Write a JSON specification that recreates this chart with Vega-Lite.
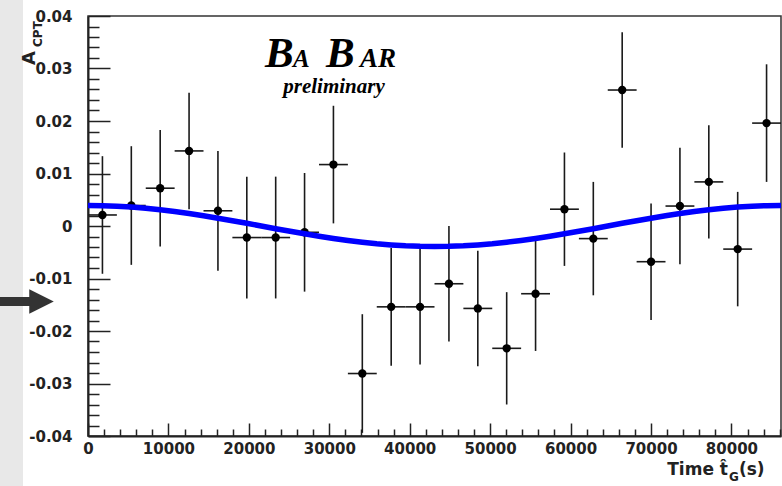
{
  "$schema": "https://vega.github.io/schema/vega-lite/v6.json",
  "width": 693,
  "height": 420,
  "autosize": {"type": "none"},
  "padding": {"left": 88, "top": 16, "right": 1, "bottom": 50},
  "background": "white",
  "config": {"view": {"stroke": "#333333", "strokeWidth": 1.5}},
  "datasets": {
    "points": [
      {"t": 1795, "t0": 0, "t1": 3590, "a": 0.0021, "lo": -0.0091, "hi": 0.0133},
      {"t": 5385, "t0": 3590, "t1": 7180, "a": 0.0039, "lo": -0.0074, "hi": 0.0152},
      {"t": 8975, "t0": 7180, "t1": 10771, "a": 0.0072, "lo": -0.0039, "hi": 0.0183},
      {"t": 12566, "t0": 10771, "t1": 14361, "a": 0.0143, "lo": 0.0032, "hi": 0.0254},
      {"t": 16156, "t0": 14361, "t1": 17951, "a": 0.0029, "lo": -0.0085, "hi": 0.0143},
      {"t": 19746, "t0": 17951, "t1": 21541, "a": -0.0022, "lo": -0.0138, "hi": 0.0094},
      {"t": 23336, "t0": 21541, "t1": 25131, "a": -0.0022, "lo": -0.0138, "hi": 0.0094},
      {"t": 26926, "t0": 25131, "t1": 28721, "a": -0.0012, "lo": -0.0125, "hi": 0.0101},
      {"t": 30516, "t0": 28721, "t1": 32312, "a": 0.0117, "lo": 0.0005, "hi": 0.0229},
      {"t": 34107, "t0": 32312, "t1": 35902, "a": -0.0281, "lo": -0.0394, "hi": -0.0168},
      {"t": 37697, "t0": 35902, "t1": 39492, "a": -0.0154, "lo": -0.0266, "hi": -0.0042},
      {"t": 41287, "t0": 39492, "t1": 43082, "a": -0.0154, "lo": -0.0264, "hi": -0.0044},
      {"t": 44877, "t0": 43082, "t1": 46672, "a": -0.0110, "lo": -0.0220, "hi": 0.0000},
      {"t": 48467, "t0": 46672, "t1": 50262, "a": -0.0157, "lo": -0.0267, "hi": -0.0047},
      {"t": 52057, "t0": 50262, "t1": 53853, "a": -0.0233, "lo": -0.0340, "hi": -0.0126},
      {"t": 55648, "t0": 53853, "t1": 57443, "a": -0.0129, "lo": -0.0238, "hi": -0.0020},
      {"t": 59238, "t0": 57443, "t1": 61033, "a": 0.0032, "lo": -0.0076, "hi": 0.0140},
      {"t": 62828, "t0": 61033, "t1": 64623, "a": -0.0024, "lo": -0.0132, "hi": 0.0084},
      {"t": 66418, "t0": 64623, "t1": 68213, "a": 0.0259, "lo": 0.0149, "hi": 0.0369},
      {"t": 70008, "t0": 68213, "t1": 71803, "a": -0.0068, "lo": -0.0179, "hi": 0.0043},
      {"t": 73598, "t0": 71803, "t1": 75394, "a": 0.0038, "lo": -0.0073, "hi": 0.0149},
      {"t": 77189, "t0": 75394, "t1": 78984, "a": 0.0084, "lo": -0.0024, "hi": 0.0192},
      {"t": 80779, "t0": 78984, "t1": 82574, "a": -0.0044, "lo": -0.0153, "hi": 0.0065},
      {"t": 84369, "t0": 82574, "t1": 86164, "a": 0.0196, "lo": 0.0084, "hi": 0.0308}
    ],
    "curve": [
      {"t": 0, "v": 0.00390}, {"t": 1795, "v": 0.00387}, {"t": 3590, "v": 0.00377},
      {"t": 5385, "v": 0.00360}, {"t": 7180, "v": 0.00338}, {"t": 8975, "v": 0.00309},
      {"t": 10771, "v": 0.00276}, {"t": 12566, "v": 0.00237}, {"t": 14361, "v": 0.00195},
      {"t": 16156, "v": 0.00149}, {"t": 17951, "v": 0.00101}, {"t": 19746, "v": 0.00051},
      {"t": 21541, "v": 0.00000}, {"t": 23336, "v": -0.00051}, {"t": 25131, "v": -0.00101},
      {"t": 26926, "v": -0.00149}, {"t": 28721, "v": -0.00195}, {"t": 30516, "v": -0.00237},
      {"t": 32312, "v": -0.00276}, {"t": 34107, "v": -0.00309}, {"t": 35902, "v": -0.00338},
      {"t": 37697, "v": -0.00360}, {"t": 39492, "v": -0.00377}, {"t": 41287, "v": -0.00387},
      {"t": 43082, "v": -0.00390}, {"t": 44877, "v": -0.00387}, {"t": 46672, "v": -0.00377},
      {"t": 48467, "v": -0.00360}, {"t": 50262, "v": -0.00338}, {"t": 52057, "v": -0.00309},
      {"t": 53853, "v": -0.00276}, {"t": 55648, "v": -0.00237}, {"t": 57443, "v": -0.00195},
      {"t": 59238, "v": -0.00149}, {"t": 61033, "v": -0.00101}, {"t": 62828, "v": -0.00051},
      {"t": 64623, "v": 0.00000}, {"t": 66418, "v": 0.00051}, {"t": 68213, "v": 0.00101},
      {"t": 70008, "v": 0.00149}, {"t": 71803, "v": 0.00195}, {"t": 73598, "v": 0.00237},
      {"t": 75394, "v": 0.00276}, {"t": 77189, "v": 0.00309}, {"t": 78984, "v": 0.00338},
      {"t": 80779, "v": 0.00360}, {"t": 82574, "v": 0.00377}, {"t": 84369, "v": 0.00387},
      {"t": 86164, "v": 0.00390}
    ],
    "one": [{}]
  },
  "layer": [
    {
      "data": {"name": "points"},
      "mark": {"type": "rule", "color": "#1a1a1a", "strokeWidth": 1.6},
      "encoding": {
        "x": {
          "field": "t", "type": "quantitative", "title": null,
          "scale": {"domain": [0, 86164], "nice": false, "zero": false},
          "axis": {
            "title": null, "grid": false, "tickCount": 200,
            "values": [0,2000,4000,6000,8000,10000,12000,14000,16000,18000,20000,22000,24000,26000,28000,30000,32000,34000,36000,38000,40000,42000,44000,46000,48000,50000,52000,54000,56000,58000,60000,62000,64000,66000,68000,70000,72000,74000,76000,78000,80000,82000,84000,86000],
            "labelExpr": "datum.value % 10000 === 0 ? format(datum.value, 'd') : ''",
            "tickSize": {"condition": {"test": "datum.value % 10000 === 0", "value": -13}, "value": -7},
            "tickColor": "#222222", "tickWidth": 1.5,
            "domain": true, "domainColor": "#222222", "domainWidth": 2,
            "labelFont": "DejaVu Sans", "labelFontWeight": "bold", "labelFontSize": 15, "labelColor": "#222222",
            "labelPadding": 18, "labelOverlap": false, "labelFlush": false, "labelBound": false
          }
        },
        "y": {
          "field": "lo", "type": "quantitative", "title": null,
          "scale": {"domain": [-0.04, 0.04], "nice": false, "zero": false},
          "axis": {
            "title": null, "grid": false, "tickCount": 200,
            "values": [-0.04,-0.038,-0.036,-0.034,-0.032,-0.03,-0.028,-0.026,-0.024,-0.022,-0.02,-0.018,-0.016,-0.014,-0.012,-0.01,-0.008,-0.006,-0.004,-0.002,0,0.002,0.004,0.006,0.008,0.01,0.012,0.014,0.016,0.018,0.02,0.022,0.024,0.026,0.028,0.03,0.032,0.034,0.036,0.038,0.04],
            "labelExpr": "abs(datum.value * 100 - round(datum.value * 100)) < 0.001 ? (abs(datum.value) < 0.000001 ? '0' : replace(format(datum.value, '.2f'), '−', '-')) : ''",
            "tickSize": {"condition": {"test": "abs(datum.value * 100 - round(datum.value * 100)) < 0.001", "value": -22}, "value": -11},
            "tickColor": "#222222", "tickWidth": 1.5,
            "domain": true, "domainColor": "#222222", "domainWidth": 2,
            "labelFont": "DejaVu Sans", "labelFontWeight": "bold", "labelFontSize": 15, "labelColor": "#222222",
            "labelPadding": 38, "labelOverlap": false, "labelFlush": false, "labelBound": false
          }
        },
        "y2": {"field": "hi"}
      }
    },
    {
      "data": {"name": "points"},
      "mark": {"type": "rule", "color": "#1a1a1a", "strokeWidth": 1.6},
      "encoding": {
        "x": {"field": "t0", "type": "quantitative", "title": null},
        "x2": {"field": "t1"},
        "y": {"field": "a", "type": "quantitative", "title": null}
      }
    },
    {
      "data": {"name": "points"},
      "mark": {"type": "point", "shape": "circle", "filled": true, "size": 70, "color": "black", "opacity": 1},
      "encoding": {
        "x": {"field": "t", "type": "quantitative", "title": null},
        "y": {"field": "a", "type": "quantitative", "title": null}
      }
    },
    {
      "data": {"name": "curve"},
      "mark": {"type": "line", "color": "#0000ff", "strokeWidth": 5.5},
      "encoding": {
        "x": {"field": "t", "type": "quantitative", "title": null},
        "y": {"field": "v", "type": "quantitative", "title": null}
      }
    },
    {
      "data": {"name": "one"},
      "mark": {"type": "rect", "color": "#e8e8e8"},
      "encoding": {
        "x": {"datum": -10941, "type": "quantitative", "title": null},
        "x2": {"datum": -8081},
        "y": {"datum": 0.05, "type": "quantitative", "title": null},
        "y2": {"datum": -0.05}
      }
    },
    {
      "data": {"name": "one"},
      "mark": {"type": "rule", "color": "#333333", "strokeWidth": 9},
      "encoding": {
        "x": {"datum": -10941, "type": "quantitative", "title": null},
        "x2": {"datum": -6962},
        "y": {"datum": -0.01438, "type": "quantitative", "title": null}
      }
    },
    {
      "data": {"name": "one"},
      "mark": {"type": "point", "shape": "M-1,-1L1,0L-1,1Z", "size": 600, "filled": true, "color": "#333333", "opacity": 1, "strokeWidth": 0},
      "encoding": {
        "x": {"datum": -5781, "type": "quantitative", "title": null},
        "y": {"datum": -0.01438, "type": "quantitative", "title": null}
      }
    },
    {
      "data": {"name": "one"},
      "mark": {"type": "text", "text": "B", "font": "Liberation Serif", "fontStyle": "italic", "fontWeight": "bold", "fontSize": 43, "align": "left", "baseline": "alphabetic", "color": "black"},
      "encoding": {
        "x": {"datum": 22006, "type": "quantitative", "title": null},
        "y": {"datum": 0.03034, "type": "quantitative", "title": null}
      }
    },
    {
      "data": {"name": "one"},
      "mark": {"type": "text", "text": "A", "font": "Liberation Serif", "fontStyle": "italic", "fontWeight": "bold", "fontSize": 25, "align": "left", "baseline": "alphabetic", "color": "black"},
      "encoding": {
        "x": {"datum": 25500, "type": "quantitative", "title": null},
        "y": {"datum": 0.03034, "type": "quantitative", "title": null}
      }
    },
    {
      "data": {"name": "one"},
      "mark": {"type": "text", "text": "B", "font": "Liberation Serif", "fontStyle": "italic", "fontWeight": "bold", "fontSize": 43, "align": "left", "baseline": "alphabetic", "color": "black"},
      "encoding": {
        "x": {"datum": 29600, "type": "quantitative", "title": null},
        "y": {"datum": 0.03034, "type": "quantitative", "title": null}
      }
    },
    {
      "data": {"name": "one"},
      "mark": {"type": "text", "text": "AR", "font": "Liberation Serif", "fontStyle": "italic", "fontWeight": "bold", "fontSize": 27, "align": "left", "baseline": "alphabetic", "color": "black"},
      "encoding": {
        "x": {"datum": 33818, "type": "quantitative", "title": null},
        "y": {"datum": 0.03034, "type": "quantitative", "title": null}
      }
    },
    {
      "data": {"name": "one"},
      "mark": {"type": "text", "text": "preliminary", "font": "Liberation Serif", "fontStyle": "italic", "fontWeight": "bold", "fontSize": 21, "align": "center", "baseline": "alphabetic", "color": "black"},
      "encoding": {
        "x": {"datum": 30585, "type": "quantitative", "title": null},
        "y": {"datum": 0.02535, "type": "quantitative", "title": null}
      }
    },
    {
      "data": {"name": "one"},
      "mark": {"type": "text", "text": "A", "font": "DejaVu Sans", "fontWeight": "bold", "fontSize": 18, "angle": 270, "align": "left", "baseline": "alphabetic", "color": "#222222"},
      "encoding": {
        "x": {"datum": -6590, "type": "quantitative", "title": null},
        "y": {"datum": 0.03067, "type": "quantitative", "title": null}
      }
    },
    {
      "data": {"name": "one"},
      "mark": {"type": "text", "text": "CPT", "font": "DejaVu Sans", "fontWeight": "bold", "fontSize": 12, "angle": 270, "align": "left", "baseline": "alphabetic", "color": "#222222"},
      "encoding": {
        "x": {"datum": -5719, "type": "quantitative", "title": null},
        "y": {"datum": 0.0341, "type": "quantitative", "title": null}
      }
    },
    {
      "data": {"name": "one"},
      "mark": {"type": "text", "text": "Time t̂", "font": "DejaVu Sans", "fontWeight": "bold", "fontSize": 17, "align": "right", "baseline": "alphabetic", "color": "#222222"},
      "encoding": {
        "x": {"datum": 79571, "type": "quantitative", "title": null},
        "y": {"datum": -0.04743, "type": "quantitative", "title": null}
      }
    },
    {
      "data": {"name": "one"},
      "mark": {"type": "text", "text": "G", "font": "DejaVu Sans", "fontWeight": "bold", "fontSize": 12, "align": "left", "baseline": "alphabetic", "color": "#222222"},
      "encoding": {
        "x": {"datum": 79696, "type": "quantitative", "title": null},
        "y": {"datum": -0.04857, "type": "quantitative", "title": null}
      }
    },
    {
      "data": {"name": "one"},
      "mark": {"type": "text", "text": "(s)", "font": "DejaVu Sans", "fontWeight": "bold", "fontSize": 17, "align": "left", "baseline": "alphabetic", "color": "#222222"},
      "encoding": {
        "x": {"datum": 80939, "type": "quantitative", "title": null},
        "y": {"datum": -0.04743, "type": "quantitative", "title": null}
      }
    }
  ]
}
